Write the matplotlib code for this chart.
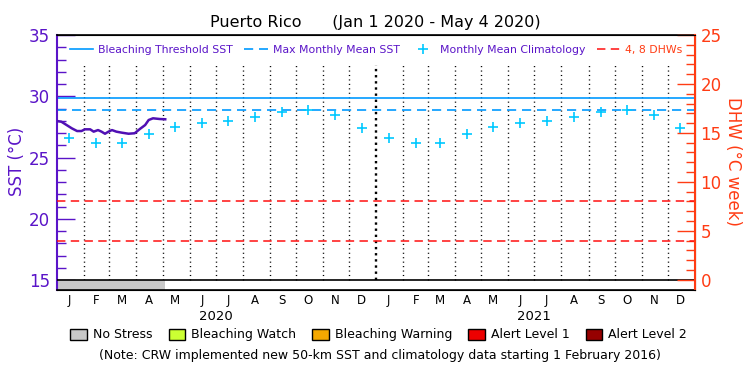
import numpy as np
import matplotlib
matplotlib.use('Agg')
import matplotlib.pyplot as plt
import matplotlib.transforms as mtransforms
from matplotlib.lines import Line2D
from matplotlib.patches import Patch

region = 'Puerto Rico'
date_range = '(Jan 1 2020 - May 4 2020)'
month_letters = ['J', 'F', 'M', 'A', 'M', 'J', 'J', 'A', 'S', 'O', 'N', 'D']
years = ['2020', '2021']

# monthly mean climatology (deg C), plotted on the 15th of each month
clim_sst = [26.62, 26.21, 26.21, 26.89, 27.51, 27.79, 28.00, 28.33, 28.74, 28.84, 28.47, 27.43]
mmm_sst = 28.84
threshold_sst = 29.84
dhw_levels = [4, 8]

# daily SST, days since Jan 1 2020
sst_days = [0, 5, 11, 17, 23, 28, 32, 38, 42, 47, 51, 55, 59, 63, 68, 74, 82, 89,
            95, 101, 105, 110, 118, 124]
sst_values = [27.98, 27.92, 27.65, 27.38, 27.16, 27.16, 27.30, 27.30, 27.11, 27.24,
              27.11, 26.94, 27.11, 27.24, 27.11, 27.03, 26.94, 26.98, 27.33, 27.65,
              28.06, 28.20, 28.14, 28.12]

stress_names = ['No Stress', 'Bleaching Watch', 'Bleaching Warning', 'Alert Level 1', 'Alert Level 2']
stress_colors = ['#c8c8c8', '#ccff33', '#f5a800', '#ee0000', '#960000']
stress_start = [0]
stress_end = [124]
stress_level = [0]

note = '(Note: CRW implemented new 50-km SST and climatology data starting 1 February 2016)'

purple = '#5a14c8'
sst_purple = '#5010b4'
orange = '#ff3c14'
thr_blue = '#0099ff'
clim_cyan = '#00c8ff'
dhw_red = '#ff1010'

start = np.datetime64('2020-01-01')
month_starts = np.arange('2020-01', '2022-02', dtype='datetime64[M]').astype('datetime64[D]')
month_edges = (month_starts - start).astype(int)
mid_month = month_edges[:-1] + 14
year_edge = month_edges[12]

fig = plt.figure(figsize=(7.5, 3.75), dpi=100)
ax = fig.add_axes([57 / 750, 85 / 375, 638 / 750, 255 / 375])
sst_bottom = 15 - 10 / 12.25
ax.set_xlim(0, month_edges[-1])
ax.set_ylim(sst_bottom, 35)

# month grid
inner = [e for e in month_edges[1:-1] if e != year_edge]
ax.vlines(inner, 15, 32.55, colors='k', linewidth=1.0, linestyles=(0, (0.8, 2.4)), zorder=1)
ax.vlines([year_edge], 15, 32.55, colors='k', linewidth=1.7, linestyles=(0, (1, 1.6)), zorder=1)

ax.axhline(threshold_sst, color=thr_blue, lw=1.2, zorder=2)
ax.axhline(mmm_sst, color=thr_blue, lw=1.2, dashes=(5.5, 3.5), zorder=2)
ax.plot(mid_month, clim_sst * 2, '+', color=clim_cyan, ms=7, mew=1.2, zorder=3)
ax.plot(sst_days, sst_values, color=sst_purple, lw=1.8, zorder=4)

# stress bar and zero line
for s0, s1, lvl in zip(stress_start, stress_end, stress_level):
    ax.broken_barh([(s0, s1 - s0)], (sst_bottom, 15 - sst_bottom), facecolors=stress_colors[lvl], zorder=2)
ax.axhline(15, color='k', lw=1.2, zorder=3)

ax.set_xticks([])
ax.set_yticks(range(15, 36, 5))
ax.set_yticks(range(15, 36), minor=True)
ax.tick_params(axis='y', which='both', direction='in', colors=purple, labelsize=12, pad=5)
ax.tick_params(axis='y', which='major', length=13, width=1)
ax.tick_params(axis='y', which='minor', length=6.5, width=1)
ax.spines['left'].set_color(purple)
ax.spines['left'].set_linewidth(1.5)
ax.spines['top'].set_linewidth(1.2)
ax.spines['bottom'].set_linewidth(1.2)

ax2 = ax.twinx()
ax2.set_ylim(-10 / 9.55, 245 / 9.55 - 10 / 9.55)
for lv in dhw_levels:
    ax2.axhline(lv, color=dhw_red, lw=1.1, dashes=(5.5, 3.5), zorder=2)
ax2.set_yticks(range(0, 26, 5))
ax2.set_yticks(range(0, 26), minor=True)
ax2.tick_params(axis='y', which='both', direction='in', colors=orange, labelsize=12, pad=4)
ax2.tick_params(axis='y', which='major', length=13, width=1)
ax2.tick_params(axis='y', which='minor', length=6.5, width=1)
ax2.spines['right'].set_color(orange)
ax2.spines['right'].set_linewidth(1.5)
ax2.spines['left'].set_visible(False)

# month and year labels
trans = mtransforms.blended_transform_factory(ax.transData, ax.transAxes)
for i, m in enumerate(mid_month):
    ax.text(m, -0.04, month_letters[i % 12], transform=trans, ha='center', va='center', fontsize=8.5)
for j, yr in enumerate(years):
    ax.text(month_edges[12 * j + 6], -0.103, yr, transform=trans, ha='center', va='center', fontsize=9.5)

handles = [
    Line2D([], [], color=thr_blue, lw=1.2),
    Line2D([], [], color=thr_blue, lw=1.2, dashes=(5.5, 3.5)),
    Line2D([], [], color=clim_cyan, marker='+', ls='none', ms=7, mew=1.2),
    Line2D([], [], color=dhw_red, lw=1.1, dashes=(5.5, 3.5)),
]
labels = ['Bleaching Threshold SST', 'Max Monthly Mean SST', 'Monthly Mean Climatology', '4, 8 DHWs']
leg = ax2.legend(handles, labels, loc='upper center', bbox_to_anchor=(0.5, 1.0), ncol=4,
                 frameon=False, fontsize=7.8, handlelength=2.2, handletextpad=0.4, columnspacing=1.1)
for t, c in zip(leg.get_texts(), [purple, purple, purple, orange]):
    t.set_color(c)

fig.text(0.5, 0.941, region + '      ' + date_range, ha='center', va='center', fontsize=11.5)
fig.text(0.022, 0.57, 'SST (\u00b0C)', rotation=90, ha='center', va='center', fontsize=12, color=purple)
fig.text(0.977, 0.57, 'DHW (\u00b0C week)', rotation=270, ha='center', va='center', fontsize=12, color=orange)

patches = [Patch(facecolor=c, edgecolor='k', lw=1) for c in stress_colors]
fig.legend(patches, stress_names, loc='center', bbox_to_anchor=(0.505, 0.107), ncol=5, frameon=False,
           fontsize=9, handlelength=1.3, handleheight=1.0, handletextpad=0.5, columnspacing=1.3)
fig.text(0.507, 0.053, note, ha='center', va='center', fontsize=9)

plt.savefig('out.png', dpi=100)
plt.close()
